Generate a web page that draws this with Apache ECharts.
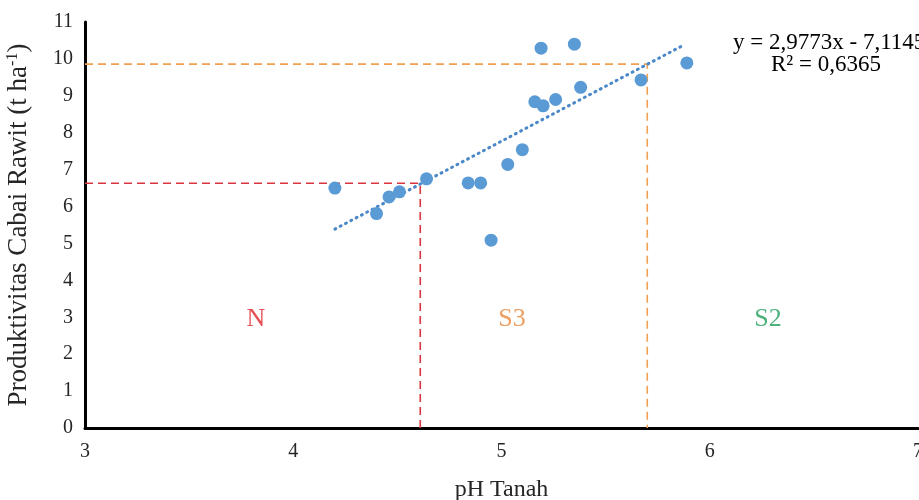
<!DOCTYPE html>
<html>
<head>
<meta charset="utf-8">
<script src="https://cdn.jsdelivr.net/npm/echarts@6/dist/echarts.min.js"></script>
<style>html,body{margin:0;padding:0;background:#fff;overflow:hidden}#c{width:919px;height:500px}</style>
</head>
<body>
<div id="c"></div>
<script>
// Data
const phValues = [4.20, 4.40, 4.46, 4.51, 4.64, 4.84, 4.90, 4.95, 5.03, 5.10, 5.16, 5.20, 5.26, 5.19, 5.35, 5.38, 5.67, 5.89];
const yieldValues = [6.50, 5.81, 6.26, 6.40, 6.75, 6.64, 6.64, 5.09, 7.14, 7.54, 8.84, 8.73, 8.90, 10.29, 10.40, 9.23, 9.43, 9.89];
const trendX = [4.20, 5.88];
const trendY = [5.39, 10.39];
const limitN = [4.61, 6.63];   // pH, yield for N/S3 boundary
const limitS3 = [5.70, 9.86];  // pH, yield for S3/S2 boundary
const classLabels = ['N', 'S3', 'S2'];
const classX = [3.82, 5.05, 6.28];
const classY = [3, 3, 3];
const equationText = ['y = 2,9773x - 7,1145', 'R² = 0,6365'];
const xTicks = [3, 4, 5, 6, 7];
const yTicks = [0, 1, 2, 3, 4, 5, 6, 7, 8, 9, 10, 11];

const classColors = ['#e0242a', '#e8873a', '#1e9e5a'];
const font = '"Liberation Serif", "Times New Roman", serif';
const textColor = '#262626';

const chart = echarts.init(document.getElementById('c'), null, {renderer: 'canvas'});
const option = {
  animation: false,
  backgroundColor: '#fff',
  grid: {left: 85, right: 1, top: 22, bottom: 72, containLabel: false, outerBoundsMode: 'none'},
  xAxis: {
    type: 'value', min: xTicks[0], max: xTicks[xTicks.length - 1], interval: 1,
    axisLine: {show: true, lineStyle: {color: '#000', width: 3}},
    axisTick: {show: false}, splitLine: {show: false},
    axisLabel: {color: textColor, fontFamily: font, fontSize: 20, margin: 14},
    name: 'pH Tanah', nameLocation: 'middle', nameGap: 50,
    nameTextStyle: {color: textColor, fontFamily: font, fontSize: 24}
  },
  yAxis: {
    type: 'value', min: yTicks[0], max: yTicks[yTicks.length - 1], interval: 1,
    axisLine: {show: true, lineStyle: {color: '#000', width: 3}},
    axisTick: {show: false}, splitLine: {show: false},
    axisLabel: {color: textColor, fontFamily: font, fontSize: 20, margin: 12},
    name: '{a|Produktivitas Cabai Rawit (t ha}{s|-1}{a|)}', nameLocation: 'middle', nameGap: 52, nameRotate: 90,
    nameTextStyle: {
      color: textColor, fontFamily: font, fontSize: 27,
      rich: {
        a: {color: textColor, fontFamily: font, fontSize: 27},
        s: {color: textColor, fontFamily: font, fontSize: 16, padding: [0, 0, 12, 0]}
      }
    }
  },
  series: [
    {
      type: 'line', name: 'N limit', symbol: 'none', silent: true, z: 1,
      data: [[xTicks[0], limitN[1]], [limitN[0], limitN[1]], [limitN[0], yTicks[0]]],
      lineStyle: {color: '#d9343f', width: 1.6, type: [8, 5]}
    },
    {
      type: 'line', name: 'S3 limit', symbol: 'none', silent: true, z: 1,
      data: [[xTicks[0], limitS3[1]], [limitS3[0], limitS3[1]], [limitS3[0], yTicks[0]]],
      lineStyle: {color: '#f0a050', width: 1.6, type: [8, 5]}
    },
    {
      type: 'scatter', name: 'data', symbolSize: 13, z: 3,
      itemStyle: {color: '#5b9bd5', opacity: 1},
      data: phValues.map((x, i) => [x, yieldValues[i]])
    },
    {
      type: 'line', name: 'trend', symbol: 'none', z: 2,
      data: trendX.map((x, i) => [x, trendY[i]]),
      lineStyle: {color: '#4a88c8', width: 3, type: [1, 5], cap: 'round'}
    },
    {
      type: 'scatter', name: 'classes', symbolSize: 0, z: 4, silent: true,
      data: classLabels.map((t, i) => ({
        value: [classX[i], classY[i]],
        label: {show: true, position: 'inside', offset: [0, 2], formatter: t, color: classColors[i], fontFamily: font, fontSize: 26}
      }))
    }
  ],
  graphic: [
    {type: 'text', left: 733, top: 31, style: {text: equationText[0], font: '23px ' + font, fill: '#000'}},
    {type: 'text', left: 771, top: 53, style: {text: equationText[1], font: '23px ' + font, fill: '#000'}}
  ]
};
chart.setOption(option);
</script>
</body>
</html>
